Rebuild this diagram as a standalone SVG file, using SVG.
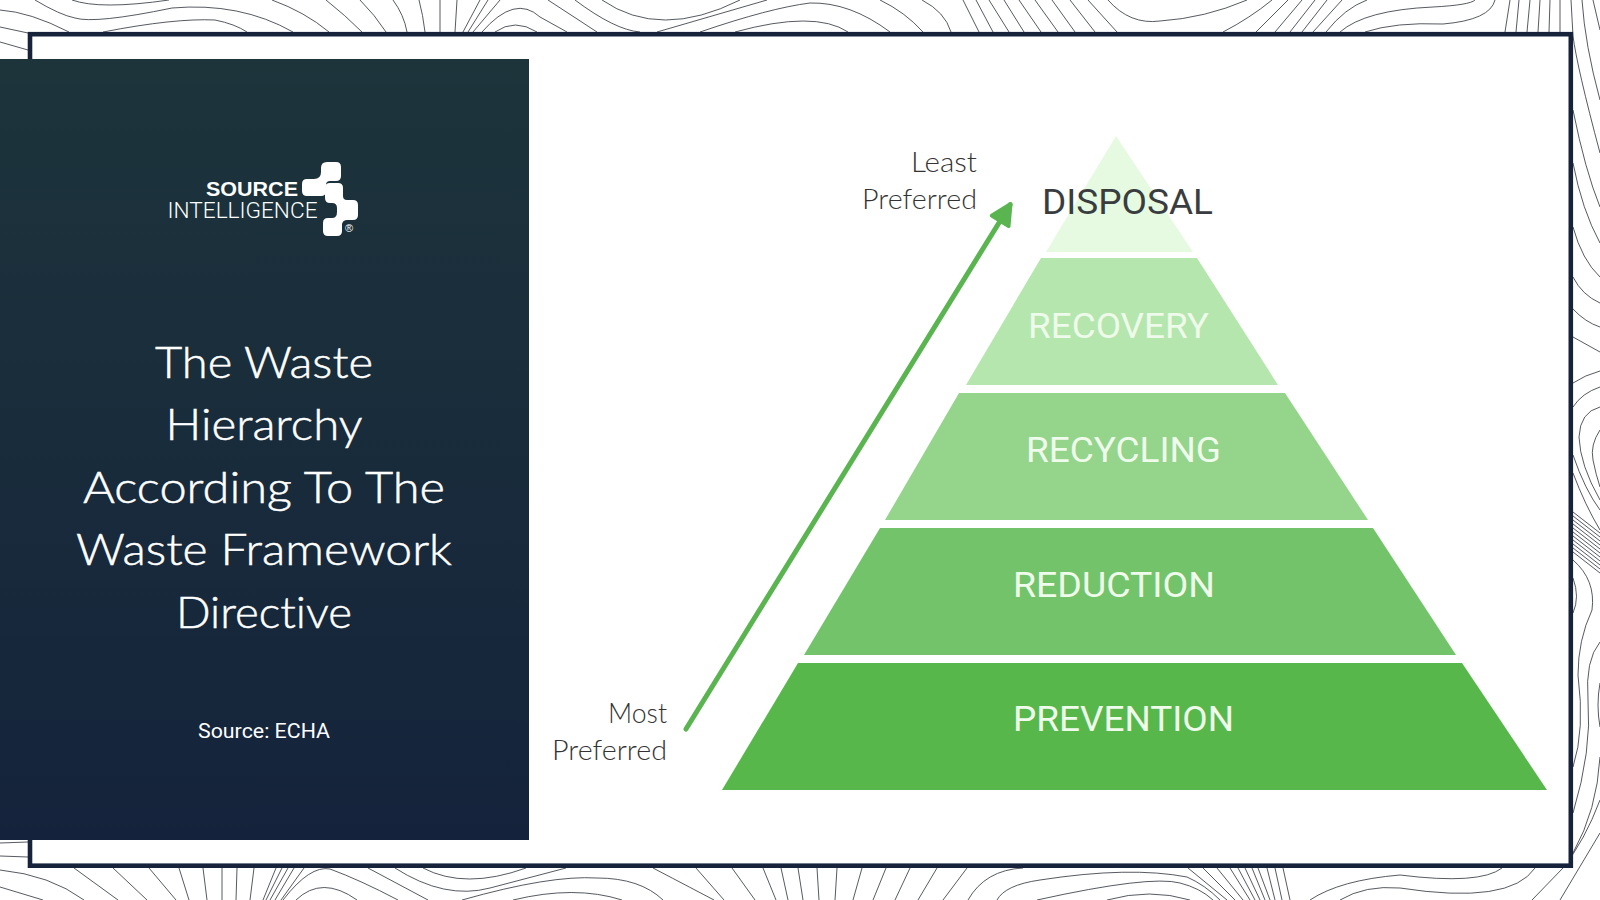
<svg xmlns="http://www.w3.org/2000/svg" width="1600" height="900" viewBox="0 0 1600 900">
<defs>
<linearGradient id="panelGrad" x1="0" y1="0" x2="0" y2="1"><stop offset="0" stop-color="#1d343b"/><stop offset="1" stop-color="#14233b"/></linearGradient>
<marker id="head" viewBox="0 0 10 10" refX="8.5" refY="5" markerWidth="5" markerHeight="5" markerUnits="strokeWidth" orient="auto"><path d="M1 1 L9 5 L1 9 Z" fill="#5ab550" stroke="#5ab550" stroke-width="1.5" stroke-linejoin="round"/></marker>
</defs>
<style>
.c{fill:none;stroke:#2b3038;stroke-width:.8}
.t{font-family:"Roboto","Liberation Sans",sans-serif;font-size:35px;fill:#effbeb;text-anchor:start}
.title{font-family:"Lato","Noto Sans",sans-serif;font-weight:300;font-size:44px;fill:#fff;stroke:#fff;stroke-width:.5;text-anchor:middle;font-variant-ligatures:none}
.pref{font-family:"Lato","Noto Sans",sans-serif;font-weight:300;font-size:27px;fill:#333;text-anchor:end;font-variant-ligatures:none}
</style>
<rect width="1600" height="900" fill="#fff"/>
<g id="contours" class="c">
<path class="c" d="M0 10Q30 12 69 32M0 27L28 33M0 42L28 50M35 0Q60 15 75 18Q95 24 172 8Q240 2 293 32M72 0Q100 10 169 0M103 32Q175 18 215 20Q235 24 247 32M272 0Q305 12 329 32M326 0Q345 15 362 32M360 0Q375 15 386 32M393 0Q404 15 407 32M419 0Q423 15 425 32M440 0V32M457 0L455 32M480 0L463 32M488 0L468 32M500 0L473 32M482 32Q515 -6 540 17L567 32M495 32Q515 18 537 32M548 0L597 32M575 0Q615 30 640 32M602 0Q660 40 740 0M657 32L767 0M700 32Q770 8 810 3Q850 2 890 32M735 32Q815 10 848 32M880 0Q905 12 923 32M922 0Q945 12 951 32"/>
<path class="c" d="M963 0L979 32M976 0L993 32M989 0L1009 32M1004 0L1024 32M1019 0L1041 32M1035 0L1058 32M1052 0L1075 32M1070 0L1095 32M1088 0L1117 32M1108 0Q1130 25 1160 21Q1205 18 1247 0M1223 32Q1250 18 1272 0M1256 32L1288 0M1275 32L1302 0M1290 32L1315 0M1302 32L1327 0M1313 32L1342 0M1326 32Q1345 8 1367 0M1340 32Q1365 10 1433 7Q1470 5 1475 0M1365 32Q1395 22 1443 24Q1490 20 1495 0M1505 32L1510 0M1516 32L1519 0M1527 32L1530 0M1538 32L1540 0M1549 32L1550 0M1560 32V0"/>
<path class="c" d="M1571 0L1573 36Q1577 67 1600 153M1582 0Q1585 45 1600 100M1593 0L1600 30M1573 110Q1585 170 1600 207M1573 163Q1582 210 1600 243M1573 227Q1582 260 1600 277M1573 277Q1582 295 1600 303M1573 309Q1585 322 1600 327M1573 337L1600 352M1573 383Q1585 375 1600 371M1573 407Q1582 393 1600 387M1600 407Q1580 412 1579 437Q1580 465 1600 500M1600 430Q1590 445 1593 460Q1596 475 1600 487M1573 455Q1585 490 1600 510M1573 473Q1585 505 1600 530"/>
<path class="c" d="M1573 512L1600 533M1573 516L1600 537M1573 520L1600 541M1573 524L1600 545M1573 528L1600 549M1573 532L1600 553M1573 536L1600 557M1573 540L1600 561M1573 544L1600 565M1573 548L1600 569M1573 552L1600 573M1573 560Q1596 580 1592 610Q1578 640 1578 675Q1585 730 1573 767M1573 578Q1580 597 1573 613M1600 642Q1585 660 1588 700Q1592 750 1573 813M1600 683Q1596 705 1600 727M1600 757Q1597 810 1573 853M1600 800Q1585 840 1563 868M1400 875Q1480 885 1502 868M1400 888Q1510 905 1535 868M1532 900L1563 868M1600 833L1560 900"/>
<path class="c" d="M0 843L28 842M0 856L28 857M0 870Q50 875 84 900M0 887L43 900M74 868L118 900M113 868L147 900M149 868L176 900M179 868L189 900M203 868L207 900M222 868V900M237 868L236 900M254 868L250 900M276 868L263 900M282 868L266 900M288 868L270 900M294 868L275 900M304 868L281 900M283 900Q310 865 330 869Q360 880 398 900M296 900Q322 875 357 900M368 868L428 900M395 868Q445 900 490 888L566 868M423 868Q465 890 526 868M462 900Q550 875 597 878Q640 878 663 900M513 900Q575 885 622 900M653 868Q695 890 714 900M696 868L724 900M732 868L755 900M763 868L776 900M781 868L788 900"/>
<path class="c" d="M798 868L803 900M817 868L819 900M837 868L835 900M862 868L853 900M886 868L873 900M910 868L895 900M937 868L918 900M967 868L943 900M968 900Q985 870 1023 868M997 900Q1005 885 1040 880Q1130 866 1187 877Q1205 885 1220 900M1037 900Q1150 875 1180 883Q1200 888 1213 900M1107 900Q1150 888 1190 900M1188 868L1227 900M1203 868L1235 900M1217 868L1243 900M1230 868L1250 900M1238 868L1255 900M1245 868L1260 900M1252 868L1265 900M1258 868L1270 900M1267 868L1275 900M1275 868L1282 900M1290 900L1283 868M1310 900Q1340 880 1400 875M1340 900Q1365 885 1400 888"/>
</g>
<rect id="frame" x="30" y="34.2" width="1540.8" height="831.5" fill="#fff" stroke="#16233b" stroke-width="4.6"/>
<g id="panel">
<rect x="0" y="59" width="529" height="781" fill="url(#panelGrad)"/>
<g id="logo" fill="#fff">
<path d="M327 162H336Q341 162 341 167V176Q341 181 336 181H330Q326 181 326 185V191Q326 196 321 196H307Q302 196 302 191V184Q302 179 307 179H314Q321 179 321 172V168Q321 162 327 162Z"/>
<path d="M330 183H338Q343 183 343 188V196Q343 200 347 200H353Q358 200 358 205V215Q358 220 353 220H347Q343 220 342 224V231Q342 236 337 236H328Q323 236 323 231V223Q323 218 328 218H332Q337 218 337 212V208Q337 203 332 203H330Q325 203 325 198V188Q325 183 330 183Z"/>
<text x="252" y="196" font-family="Liberation Sans,sans-serif" font-weight="700" font-size="20" text-anchor="middle" textLength="92" lengthAdjust="spacingAndGlyphs">SOURCE</text>
<text x="242.500" y="218" font-family="Roboto,sans-serif" font-weight="300" font-size="22" text-anchor="middle" textLength="150" lengthAdjust="spacingAndGlyphs">INTELLIGENCE</text>
<text x="349" y="232" font-family="Liberation Sans,sans-serif" font-size="11" text-anchor="middle">®</text>
</g>
<text class="title" x="264" y="378" textLength="218" lengthAdjust="spacingAndGlyphs">The Waste</text>
<text class="title" x="264" y="440" textLength="197" lengthAdjust="spacingAndGlyphs">Hierarchy</text>
<text class="title" x="264" y="503" textLength="362" lengthAdjust="spacingAndGlyphs">According To The</text>
<text class="title" x="264" y="565" textLength="376" lengthAdjust="spacingAndGlyphs">Waste Framework</text>
<text class="title" x="264" y="628" textLength="176" lengthAdjust="spacingAndGlyphs">Directive</text>
<text x="264" y="738" font-family="Roboto,sans-serif" font-size="20" fill="#fff" text-anchor="middle" textLength="132" lengthAdjust="spacingAndGlyphs">Source: ECHA</text>
</g>
<g id="connectors"><path d="M686 729L1010 205" fill="none" stroke="#5ab550" stroke-width="5" stroke-linecap="round" marker-end="url(#head)"/></g>
<g id="prevention"><polygon points="798,663 1462,663 1547,790 722,790" fill="#57b74b"/><text class="t" x="1013" y="731" textLength="221" lengthAdjust="spacingAndGlyphs">PREVENTION</text></g>
<g id="reduction"><polygon points="880,528 1373,528 1456,655 804,655" fill="#72c36a"/><text class="t" x="1013" y="597" textLength="202" lengthAdjust="spacingAndGlyphs">REDUCTION</text></g>
<g id="recycling"><polygon points="959,393 1285,393 1368,520 885,520" fill="#94d48b"/><text class="t" x="1026" y="462" textLength="195" lengthAdjust="spacingAndGlyphs">RECYCLING</text></g>
<g id="recovery"><polygon points="1041,258 1197,258 1278,385 966,385" fill="#b5e6ae"/><text class="t" x="1028" y="338" textLength="181" lengthAdjust="spacingAndGlyphs" style="fill:#eefaea">RECOVERY</text></g>
<g id="disposal"><polygon points="1116,136 1193,252 1046,252" fill="#e6fae1"/><text class="t" x="1042" y="214" textLength="171" lengthAdjust="spacingAndGlyphs" style="fill:#3a3d3f">DISPOSAL</text></g>
<text class="pref" x="977" y="172" textLength="66" lengthAdjust="spacingAndGlyphs">Least</text>
<text class="pref" x="977" y="209" textLength="115" lengthAdjust="spacingAndGlyphs">Preferred</text>
<text class="pref" x="667" y="723" textLength="59" lengthAdjust="spacingAndGlyphs">Most</text>
<text class="pref" x="667" y="760" textLength="115" lengthAdjust="spacingAndGlyphs">Preferred</text>
</svg>
